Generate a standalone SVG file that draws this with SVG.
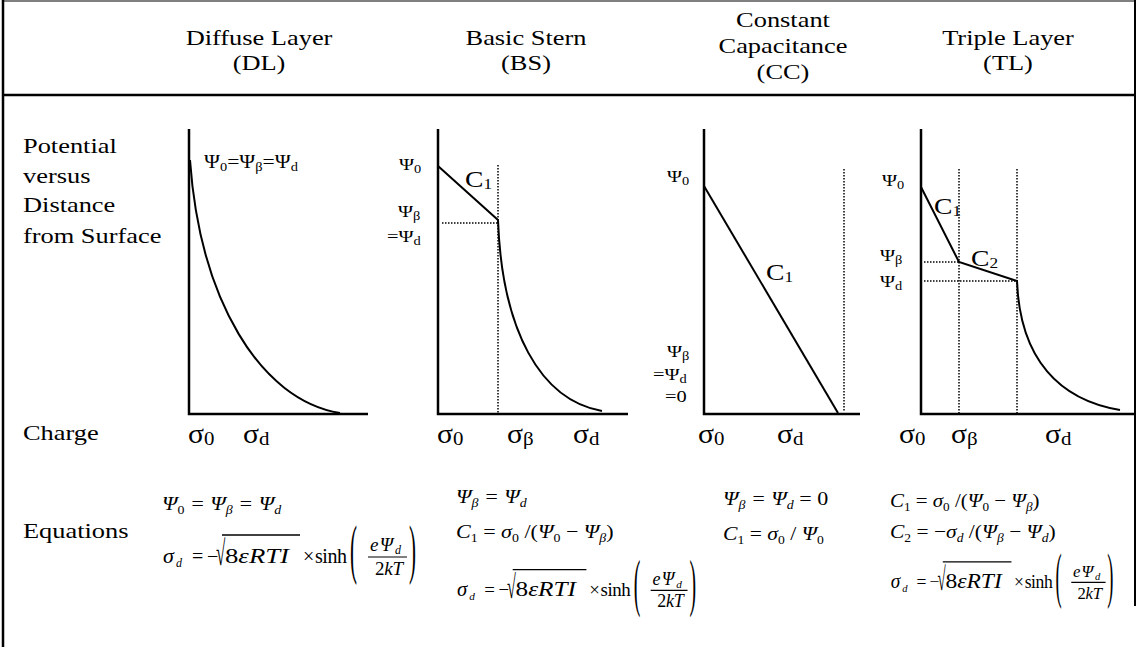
<svg xmlns="http://www.w3.org/2000/svg" xmlns:xlink="http://www.w3.org/1999/xlink" width="1137" height="647" viewBox="0 0 1137 647">
<style>
.t{font-family:"Liberation Serif","Times New Roman",serif;fill:#000}
.lab{font-size:22px}
.cl{font-size:24px}
.cs{font-size:15px}
.psi{font-size:17px}
.sub{font-size:12px}
.sig{font-size:27px}
.sigs{font-size:19px}
.eq{font-size:19px;font-style:italic}
.eqn{font-size:20px;font-style:normal}
.es{font-size:12px}
.big{font-size:22px}
.par{font-size:20px;font-style:normal}
.axis{stroke:#000;stroke-width:2.5;fill:none}
.crv{stroke:#000;stroke-width:2;fill:none}
.dot{stroke:#000;stroke-width:1.5;stroke-dasharray:1.5 1.5;fill:none}
.frame{stroke:#000;fill:none}
</style>
<defs>
<g id="sinhEq">
<text class="t eq big" x="1" y="0">σ</text>
<text class="t eq es" x="14" y="4">d</text>
<text class="t eqn" x="30" y="0">=</text>
<text class="t eqn" x="45" y="0">−</text>
<text class="t eqn" transform="translate(54,2) scale(0.85,1.75)">√</text>
<line x1="60" y1="-28" x2="138" y2="-28" stroke="#000" stroke-width="1.3"/>
<text class="t eq big" x="63" y="0" textLength="64" lengthAdjust="spacingAndGlyphs"><tspan font-style="normal">8</tspan>εRTI</text>
<text class="t eqn" x="141" y="0">×</text>
<text class="t eqn" x="153" y="0" textLength="32" lengthAdjust="spacing">sinh</text>
<text class="t par" transform="translate(188,8.3) scale(1.05,3.3)">(</text>
<line x1="206" y1="-6" x2="245" y2="-6" stroke="#000" stroke-width="1.2"/>
<text class="t eq" x="208" y="-12" textLength="23" lengthAdjust="spacing">eΨ</text>
<text class="t eq es" x="233" y="-9">d</text>
<text class="t eq" x="213" y="12" textLength="28" lengthAdjust="spacing"><tspan font-style="normal">2</tspan>kT</text>
<text class="t par" transform="translate(247,8.3) scale(1.05,3.3)">)</text>
</g>
</defs>
<rect width="1137" height="647" fill="#fff"/>
<g id="table-frame">
<line class="frame" x1="3" y1="1" x2="1136" y2="1" stroke-width="1"/>
<line class="frame" x1="3" y1="0" x2="3" y2="647" stroke-width="2.5"/>
<line class="frame" x1="1135" y1="0" x2="1135" y2="606" stroke-width="2"/>
<line class="frame" x1="3" y1="95" x2="1136" y2="95" stroke-width="2.5"/>
</g>
<g id="headers" class="t lab" text-anchor="middle">
<text transform="translate(259,45) scale(1.2,1)">Diffuse Layer</text>
<text transform="translate(259,70) scale(1.2,1)">(DL)</text>
<text transform="translate(526,45) scale(1.2,1)">Basic Stern</text>
<text transform="translate(526,70) scale(1.2,1)">(BS)</text>
<text transform="translate(783,27) scale(1.2,1)">Constant</text>
<text transform="translate(783,53) scale(1.2,1)">Capacitance</text>
<text transform="translate(783,79) scale(1.2,1)">(CC)</text>
<text transform="translate(1008,45) scale(1.2,1)">Triple Layer</text>
<text transform="translate(1008,70) scale(1.2,1)">(TL)</text>
</g>
<g id="row-labels" class="t lab">
<text transform="translate(23,153) scale(1.2,1)">Potential</text>
<text transform="translate(23,183) scale(1.2,1)">versus</text>
<text transform="translate(23,212) scale(1.2,1)">Distance</text>
<text transform="translate(23,243) scale(1.2,1)">from Surface</text>
<text transform="translate(23,440) scale(1.2,1)">Charge</text>
<text transform="translate(23,538) scale(1.2,1)">Equations</text>
</g>
<g id="chart-DL">
<polyline class="axis" points="189,129 189,414 368,414"/>
<path class="crv" d="M190,160 C200,300 260,400 340,413"/>
<text class="t psi" style="font-size:18px" transform="translate(204,168) scale(1.2,1)">Ψ<tspan class="sub" dy="3">0</tspan><tspan dy="-3">=Ψ</tspan><tspan class="sub" dy="3">β</tspan><tspan dy="-3">=Ψ</tspan><tspan class="sub" dy="3">d</tspan></text>
</g>
<g id="chart-BS">
<polyline class="axis" points="438,129 438,414 628,414"/>
<line class="dot" x1="498" y1="165" x2="498" y2="414"/>
<line class="dot" x1="442" y1="223" x2="498" y2="223"/>
<path class="crv" d="M438,166 L498,220 C502,330 540,400 602,411"/>
<text class="t psi" transform="translate(399,170) scale(1.2,1)">Ψ<tspan class="sub" dy="3">0</tspan></text>
<text class="t psi" transform="translate(398,217) scale(1.2,1)">Ψ<tspan class="sub" dy="3">β</tspan></text>
<text class="t psi" transform="translate(387,242) scale(1.2,1)">=Ψ<tspan class="sub" dy="3">d</tspan></text>
<text class="t cl" transform="translate(465,187) scale(1.15,1)">C<tspan class="cs" dy="2">1</tspan></text>
</g>
<g id="chart-CC">
<polyline class="axis" points="704,129 704,414 860,414"/>
<line class="dot" x1="844" y1="169" x2="844" y2="412"/>
<path class="crv" d="M704,186 L838,413"/>
<text class="t psi" transform="translate(667,182) scale(1.2,1)">Ψ<tspan class="sub" dy="3">0</tspan></text>
<text class="t psi" transform="translate(667,357) scale(1.2,1)">Ψ<tspan class="sub" dy="3">β</tspan></text>
<text class="t psi" transform="translate(653,380) scale(1.2,1)">=Ψ<tspan class="sub" dy="3">d</tspan></text>
<text class="t psi" transform="translate(665,402) scale(1.2,1)">=0</text>
<text class="t cl" transform="translate(766,280) scale(1.15,1)">C<tspan class="cs" dy="2">1</tspan></text>
</g>
<g id="chart-TL">
<polyline class="axis" points="921,129 921,414 1136,414"/>
<line class="dot" x1="959" y1="169" x2="959" y2="414"/>
<line class="dot" x1="1017" y1="169" x2="1017" y2="414"/>
<line class="dot" x1="924" y1="262" x2="959" y2="262"/>
<line class="dot" x1="924" y1="281" x2="1017" y2="281"/>
<path class="crv" d="M921,187 L959,262 L1017,281 C1020,360 1060,400 1120,410"/>
<text class="t psi" transform="translate(882,186) scale(1.2,1)">Ψ<tspan class="sub" dy="3">0</tspan></text>
<text class="t psi" transform="translate(880,261) scale(1.2,1)">Ψ<tspan class="sub" dy="3">β</tspan></text>
<text class="t psi" transform="translate(880,287) scale(1.2,1)">Ψ<tspan class="sub" dy="3">d</tspan></text>
<text class="t cl" transform="translate(934,214) scale(1.15,1)">C<tspan class="cs" dy="2">1</tspan></text>
<text class="t cl" transform="translate(971,266) scale(1.15,1)">C<tspan class="cs" dy="2">2</tspan></text>
</g>
<g id="charge-labels" class="t">
<text class="sig" transform="translate(188,443) scale(1.1,1)">σ<tspan class="sigs" dy="2">0</tspan></text>
<text class="sig" transform="translate(243,443) scale(1.1,1)">σ<tspan class="sigs" dy="2">d</tspan></text>
<text class="sig" transform="translate(437,443) scale(1.1,1)">σ<tspan class="sigs" dy="2">0</tspan></text>
<text class="sig" transform="translate(507,443) scale(1.1,1)">σ<tspan class="sigs" dy="2">β</tspan></text>
<text class="sig" transform="translate(573,443) scale(1.1,1)">σ<tspan class="sigs" dy="2">d</tspan></text>
<text class="sig" transform="translate(698,443) scale(1.1,1)">σ<tspan class="sigs" dy="2">0</tspan></text>
<text class="sig" transform="translate(777,443) scale(1.1,1)">σ<tspan class="sigs" dy="2">d</tspan></text>
<text class="sig" transform="translate(899,443) scale(1.1,1)">σ<tspan class="sigs" dy="2">0</tspan></text>
<text class="sig" transform="translate(951,443) scale(1.1,1)">σ<tspan class="sigs" dy="2">β</tspan></text>
<text class="sig" transform="translate(1045,443) scale(1.1,1)">σ<tspan class="sigs" dy="2">d</tspan></text>
</g>
<g id="equations-DL" class="t eq">
<text transform="translate(162,510) scale(1.16,1)">Ψ<tspan class="es" font-style="normal" dy="4">0</tspan><tspan dy="-4"> = Ψ</tspan><tspan class="es" dy="4">β</tspan><tspan dy="-4"> = Ψ</tspan><tspan class="es" dy="4">d</tspan></text>
<use xlink:href="#sinhEq" transform="translate(162,563)"/>
</g>
<g id="equations-BS" class="t eq">
<text transform="translate(456,503) scale(1.16,1)">Ψ<tspan class="es" dy="4">β</tspan><tspan dy="-4"> = Ψ</tspan><tspan class="es" dy="4">d</tspan></text>
<text transform="translate(456,538) scale(1.16,1)">C<tspan class="es" font-style="normal" dy="4">1</tspan><tspan dy="-4" font-style="normal"> = </tspan>σ<tspan class="es" font-style="normal" dy="4">0</tspan><tspan dy="-4" font-style="normal"> /(</tspan>Ψ<tspan class="es" font-style="normal" dy="4">0</tspan><tspan dy="-4" font-style="normal"> − </tspan>Ψ<tspan class="es" dy="4">β</tspan><tspan dy="-4" font-style="normal">)</tspan></text>
<use xlink:href="#sinhEq" transform="translate(456,596) scale(0.945)"/>
</g>
<g id="equations-CC" class="t eq">
<text transform="translate(723,505) scale(1.16,1)">Ψ<tspan class="es" dy="4">β</tspan><tspan dy="-4"> = Ψ</tspan><tspan class="es" dy="4">d</tspan><tspan dy="-4" font-style="normal"> = 0</tspan></text>
<text transform="translate(723,540) scale(1.14,1)">C<tspan class="es" font-style="normal" dy="4">1</tspan><tspan dy="-4" font-style="normal"> = </tspan>σ<tspan class="es" font-style="normal" dy="4">0</tspan><tspan dy="-4" font-style="normal"> / </tspan>Ψ<tspan class="es" font-style="normal" dy="4">0</tspan></text>
</g>
<g id="equations-TL" class="t eq">
<text transform="translate(890,507) scale(1.1,1)">C<tspan class="es" font-style="normal" dy="4">1</tspan><tspan dy="-4" font-style="normal"> = </tspan>σ<tspan class="es" font-style="normal" dy="4">0</tspan><tspan dy="-4" font-style="normal"> /(</tspan>Ψ<tspan class="es" font-style="normal" dy="4">0</tspan><tspan dy="-4" font-style="normal"> − </tspan>Ψ<tspan class="es" dy="4">β</tspan><tspan dy="-4" font-style="normal">)</tspan></text>
<text transform="translate(890,538) scale(1.13,1)">C<tspan class="es" font-style="normal" dy="4">2</tspan><tspan dy="-4" font-style="normal"> = −</tspan>σ<tspan class="es" dy="4">d</tspan><tspan dy="-4" font-style="normal"> /(</tspan>Ψ<tspan class="es" dy="4">β</tspan><tspan dy="-4" font-style="normal"> − </tspan>Ψ<tspan class="es" dy="4">d</tspan><tspan dy="-4" font-style="normal">)</tspan></text>
<use xlink:href="#sinhEq" transform="translate(890,588) scale(0.88,0.93)"/>
</g>
</svg>
